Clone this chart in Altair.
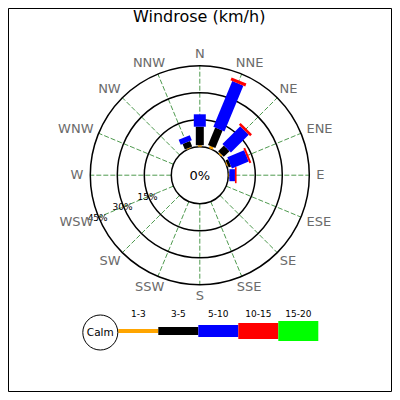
import altair as alt
import pandas as pd

# ---------------- data ----------------
directions = ["N", "NNE", "NE", "ENE", "E", "ESE", "SE", "SSE",
              "S", "SSW", "SW", "WSW", "W", "WNW", "NW", "NNW"]
speed_bins = ["1-3", "3-5", "5-10", "10-15", "15-20"]
# percent of time per direction for each speed bin (km/h)
freq_1_3   = [0.8, 1.4, 0.8, 0.6, 0.3, 0, 0, 0, 0, 0, 0, 0, 0, 0, 0, 0.5]
freq_3_5   = [10.3, 10.5, 4.5, 1.5, 0.3, 0, 0, 0, 0, 0, 0, 0, 0, 0, 0, 3.3]
freq_5_10  = [6.9, 27.5, 14.0, 10.1, 3.1, 0, 0, 0, 0, 0, 0, 0, 0, 0, 0, 3.0]
freq_10_15 = [0, 1.7, 1.4, 1.1, 0.9, 0, 0, 0, 0, 0, 0, 0, 0, 0, 0, 0]
freq_15_20 = [0, 0, 0, 0, 0, 0, 0, 0, 0, 0, 0, 0, 0, 0, 0, 0]
ring_levels = [15, 30, 45]
ring_labels = ["15%", "30%", "45%"]
calm_label = "0%"
title_text = "Windrose (km/h)"

# ---------------- styles / layout ----------------
bin_colors = ["#ffa500", "#000000", "#0000ff", "#ff0000", "#00ff00"]
bin_widths = [4, 8, 12, 16, 20]
FONT = "DejaVu Sans"
W = H = 384
K = 1.8                    # px per percent
CALM = 28.5 / K            # calm circle radius, in percent units
CX, CY = 191.8, 167.2      # rose centre inside the view (px)
LABEL_R = 116.5            # px, direction label radius
LABEL_FS = 13
char_w = {"N": 0.748, "E": 0.632, "S": 0.635, "W": 0.989}
WIDTH_EXPR = "[" + ",".join(str(w) for w in bin_widths) + "][datum.bi]"


def ux(px_abs):
    return (px_abs - 8 - CX) / K


def uy(py_abs):
    return (CY - (py_abs - 8)) / K


xs = alt.Scale(domain=[-CX / K, (W - CX) / K], nice=False, zero=False)
ys = alt.Scale(domain=[-(H - CY) / K, CY / K], nice=False, zero=False)
X = alt.X("x:Q", scale=xs, axis=None)
Y = alt.Y("y:Q", scale=ys, axis=None)
COLOR = alt.Color("bin:N", scale=alt.Scale(domain=speed_bins, range=bin_colors), legend=None)

dir_df = pd.DataFrame({
    "dir": directions,
    "i": list(range(len(directions))),
    "tw": [LABEL_FS * sum(char_w[c] for c in d) for d in directions],
})

freqs = [freq_1_3, freq_3_5, freq_5_10, freq_10_15, freq_15_20]
rows = []
for bi, (b, arr) in enumerate(zip(speed_bins, freqs)):
    for i, v in enumerate(arr):
        rows.append({"dir": directions[i], "i": i, "bin": b, "bi": bi, "v": v})
bar_df = pd.DataFrame(rows)

ring_df = pd.DataFrame({"p": [0] + ring_levels})
ringlab_df = pd.DataFrame({"p": ring_levels, "label": ring_labels})
leg_df = pd.DataFrame({"bin": speed_bins, "bi": list(range(len(speed_bins)))})

TH = "datum.i * 22.5 * PI / 180"

# spokes
spokes = alt.Chart(dir_df).transform_calculate(
    th=TH
).transform_calculate(
    x=f"{CALM} * sin(datum.th)", y=f"{CALM} * cos(datum.th)",
    x2=f"{CALM + 45} * sin(datum.th)", y2=f"{CALM + 45} * cos(datum.th)",
).mark_rule(color="#4f9a4f", strokeWidth=1, strokeDash=[5, 2]).encode(
    x=X, y=Y, x2="x2:Q", y2="y2:Q")

# rings
rings = alt.Chart(ring_df).transform_calculate(
    x="0", y="0", s=f"pow(2 * ({CALM} + datum.p) * {K}, 2)"
).mark_point(shape="circle", filled=False, stroke="black", strokeWidth=1.5,
             opacity=1).encode(x=X, y=Y, size=alt.Size("s:Q", scale=None))

# bars
bars = alt.Chart(bar_df).transform_window(
    cum="sum(v)", groupby=["i"], sort=[alt.SortField("bi")], frame=[None, 0]
).transform_filter("datum.v > 0").transform_calculate(
    th=TH, p0="datum.cum - datum.v", bw=WIDTH_EXPR
).transform_calculate(
    x=f"({CALM} + datum.p0) * sin(datum.th)",
    y=f"({CALM} + datum.p0) * cos(datum.th)",
    x2=f"({CALM} + datum.cum) * sin(datum.th)",
    y2=f"({CALM} + datum.cum) * cos(datum.th)",
).mark_rule(strokeCap="butt").encode(
    x=X, y=Y, x2="x2:Q", y2="y2:Q",
    color=COLOR,
    strokeWidth=alt.StrokeWidth("bw:Q", scale=None),
    order=alt.Order("bi:Q"),
)

# ring labels along WSW
ring_text = alt.Chart(ringlab_df).transform_calculate(
    th="247.5 * PI / 180"
).transform_calculate(
    x=f"({CALM} + datum.p + 0.6) * sin(datum.th)",
    y=f"({CALM} + datum.p + 0.6) * cos(datum.th)",
).mark_text(font=FONT, fontSize=9, color="black", align="center", baseline="middle").encode(
    x=X, y=Y, text="label:N")

# direction labels
dir_text = alt.Chart(dir_df).transform_calculate(
    th=TH
).transform_calculate(
    x=f"({LABEL_R} + datum.tw / 2) * sin(datum.th) / {K}",
    y=f"({LABEL_R} + 4.75) * cos(datum.th) / {K}",
).mark_text(font=FONT, fontSize=LABEL_FS, color="#6b6b6b", align="center", baseline="middle").encode(
    x=X, y=Y, text="dir:N")

# centre label and title
misc_df = pd.DataFrame({"t": [calm_label, title_text],
                        "x": [ux(199.7), ux(199.2)],
                        "y": [uy(176.2), uy(21.5)],
                        "kind": ["centre", "title"]})
centre_text = alt.Chart(misc_df).transform_filter("datum.kind == 'centre'").mark_text(
    font=FONT, fontSize=13, color="black", align="center", baseline="middle").encode(
    x=X, y=Y, text="t:N")
title = alt.Chart(misc_df).transform_filter("datum.kind == 'title'").mark_text(
    font=FONT, fontSize=16, color="black", align="center", baseline="alphabetic").encode(
    x=X, y=Y, text="t:N")

# legend
LX0, LSTEP, LY, LLY = 118.3, 40.0, 331.0, 314.0
leg_bars = alt.Chart(leg_df).transform_calculate(
    x=f"({LX0} - 8 + {LSTEP} * datum.bi - {CX}) / {K}",
    x2=f"({LX0} - 8 + {LSTEP} * (datum.bi + 1) - {CX}) / {K}",
    y=f"{uy(LY)}",
    bw=WIDTH_EXPR,
).mark_rule(strokeCap="butt").encode(
    x=X, x2="x2:Q", y=Y,
    color=COLOR,
    strokeWidth=alt.StrokeWidth("bw:Q", scale=None),
)
leg_text = alt.Chart(leg_df).transform_calculate(
    x=f"({LX0} - 8 + {LSTEP} * (datum.bi + 0.5) - {CX}) / {K}",
    y=f"{uy(LLY)}",
).mark_text(font=FONT, fontSize=9, color="black", align="center", baseline="middle").encode(
    x=X, y=Y, text="bin:N")

calm_df = pd.DataFrame({"t": ["Calm"], "x": [ux(100.3)], "y": [uy(332.5)]})
calm_circle = alt.Chart(calm_df).mark_point(
    shape="circle", filled=False, stroke="black", strokeWidth=1, opacity=1, size=35 * 35
).encode(x=X, y=Y)
calm_text = alt.Chart(calm_df).mark_text(
    font=FONT, fontSize=10.5, color="black", align="center", baseline="middle"
).encode(x=X, y=Y, text="t:N")

# outer frame
frame = alt.Chart(calm_df).mark_rect(filled=False, stroke="black", strokeWidth=1).encode(
    x=alt.value(0.5), x2=alt.value(W - 0.5), y=alt.value(0.5), y2=alt.value(H - 0.5))

chart = alt.layer(
    frame, spokes, rings, bars, ring_text, dir_text, centre_text, title,
    leg_bars, leg_text, calm_circle, calm_text
).properties(
    width=W, height=H, padding=0, autosize=alt.AutoSizeParams(type="none")
).configure_view(stroke=None).configure(background="white")

chart.save("out.html", embed_options={"renderer": "svg", "actions": False})
